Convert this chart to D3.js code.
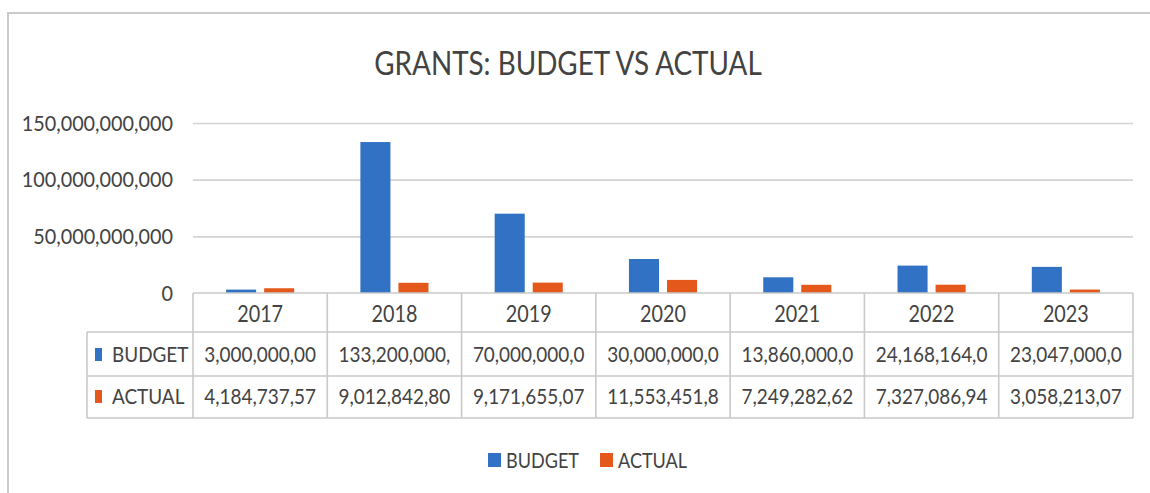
<!DOCTYPE html>
<html>
<head>
<meta charset="utf-8">
<script src="https://cdn.jsdelivr.net/npm/d3@7"></script>
<style>
  html, body { margin: 0; padding: 0; background: #fff; }
  svg { display: block; }
  text { font-family: Lato, "Open Sans", sans-serif; fill: #434343; }
</style>
</head>
<body>
<svg id="chart" width="1150" height="493"></svg>
<script>
// Grants per year, budget against actual
const years = ["2017", "2018", "2019", "2020", "2021", "2022", "2023"];
const budget = [3000000000, 133200000000, 70000000000, 30000000000, 13860000000, 24168164000, 23047000000];
const actual = [4184737570, 9012842800, 9171655070, 11553451800, 7249282620, 7327086940, 3058213070];
const seriesNames = ["BUDGET", "ACTUAL"];
const seriesValues = [budget, actual];
const seriesColors = ["#3272c4", "#e5581c"];
const yTicks = [0, 50000000000, 100000000000, 150000000000];
const titleText = "GRANTS: BUDGET VS ACTUAL";

const svg = d3.select("#chart");
const W = 1150, H = 493;

const plot = { left: 193, right: 1133, top: 123, bottom: 293 };
const table = { labelLeft: 87, headerBottom: 332, rowHeights: [44, 42] };
const gridColor = "#d3d3d3";
const lineColor = "#c9c9c9";
const NARROW = 0.86; // horizontal squeeze to get a narrow, Calibri-like set

// squeeze a text element horizontally by the given factor
function narrow(sel, k = NARROW) {
  sel.each(function () {
    const w = this.getComputedTextLength();
    d3.select(this).attr("textLength", w * k).attr("lengthAdjust", "spacingAndGlyphs");
  });
}

// chart frame
svg.append("rect")
  .attr("x", 8).attr("y", 13)
  .attr("width", W + 20).attr("height", H + 20)
  .attr("fill", "none").attr("stroke", "#cacaca").attr("stroke-width", 2);

// title
svg.append("text")
  .attr("x", 568).attr("y", 75)
  .attr("text-anchor", "middle")
  .style("font-size", "32px")
  .text(titleText)
  .call(narrow, 0.87);

const x = d3.scaleBand().domain(years).range([plot.left, plot.right]).padding(0);
const y = d3.scaleLinear().domain([0, 150000000000]).range([plot.bottom, plot.top]);
const xs = d3.scaleBand().domain(seriesNames)
  .range([0, x.bandwidth()]).paddingInner(0.21).paddingOuter(0.87);

// value axis with gridlines
const yAxis = d3.axisLeft(y)
  .tickValues(yTicks)
  .tickFormat(d3.format(","))
  .tickSizeInner(-(plot.right - plot.left))
  .tickSizeOuter(0)
  .tickPadding(20);

const gy = svg.append("g")
  .attr("transform", `translate(${plot.left},0)`)
  .call(yAxis);
gy.select(".domain").remove();
gy.selectAll(".tick line")
  .attr("stroke", gridColor).attr("stroke-width", 1.6)
  .filter(d => d === 0).remove();
gy.selectAll(".tick text")
  .attr("fill", "#434343")
  .style("font-size", "22px")
  .call(narrow, 0.9);

// bars
const rows = years.map((yr, i) => ({ year: yr, values: seriesNames.map((s, j) => ({ s, j, v: seriesValues[j][i] })) }));
svg.append("g").selectAll("g")
  .data(rows).join("g")
  .attr("transform", d => `translate(${x(d.year)},0)`)
  .selectAll("rect")
  .data(d => d.values).join("rect")
  .attr("x", d => xs(d.s))
  .attr("width", xs.bandwidth())
  .attr("y", d => y(d.v))
  .attr("height", d => y(0) - y(d.v))
  .attr("fill", d => seriesColors[d.j]);

// data table
const rowTops = [table.headerBottom, table.headerBottom + table.rowHeights[0]];
const tableBottom = rowTops[1] + table.rowHeights[1];
const tg = svg.append("g").attr("stroke", lineColor).attr("stroke-width", 1.6);

// horizontal rules
tg.append("line").attr("x1", plot.left).attr("x2", plot.right).attr("y1", plot.bottom).attr("y2", plot.bottom);
[table.headerBottom, rowTops[1], tableBottom].forEach(yy => {
  tg.append("line").attr("x1", table.labelLeft).attr("x2", plot.right).attr("y1", yy).attr("y2", yy);
});
// vertical rules
tg.append("line").attr("x1", table.labelLeft).attr("x2", table.labelLeft).attr("y1", table.headerBottom).attr("y2", tableBottom);
years.forEach(yr => {
  tg.append("line").attr("x1", x(yr)).attr("x2", x(yr)).attr("y1", plot.bottom).attr("y2", tableBottom);
});
tg.append("line").attr("x1", plot.right).attr("x2", plot.right).attr("y1", plot.bottom).attr("y2", tableBottom);

// year header
svg.append("g").selectAll("text")
  .data(years).join("text")
  .attr("x", d => x(d) + x.bandwidth() / 2)
  .attr("y", 322)
  .attr("text-anchor", "middle")
  .style("font-size", "23px")
  .text(d => d)
  .call(narrow);

// row labels with legend keys
const baselines = [362, 404];
seriesNames.forEach((s, j) => {
  svg.append("rect")
    .attr("x", 95).attr("y", baselines[j] - 14)
    .attr("width", 7).attr("height", 13)
    .attr("fill", seriesColors[j]);
  svg.append("text")
    .attr("x", 112).attr("y", baselines[j])
    .style("font-size", "22px")
    .text(s)
    .call(narrow);
});

// cell values, clipped to the cell width like a spreadsheet
const fmt = d3.format(",");
const maxCellText = x.bandwidth() - 12;
seriesNames.forEach((s, j) => {
  svg.append("g").selectAll("text")
    .data(years.map((yr, i) => ({ yr, v: seriesValues[j][i] })))
    .join("text")
    .attr("x", d => x(d.yr) + x.bandwidth() / 2)
    .attr("y", baselines[j])
    .attr("text-anchor", "middle")
    .style("font-size", "22px")
    .text(d => fmt(d.v))
    .each(function () {
      const t = d3.select(this);
      let str = t.text();
      while (str.length > 1 && this.getComputedTextLength() * NARROW > maxCellText) {
        str = str.slice(0, -1);
        t.text(str);
      }
    })
    .call(narrow);
});

// legend
const legend = svg.append("g");
const legendItems = [{ x: 488, tx: 506 }, { x: 600, tx: 618 }];
seriesNames.forEach((s, j) => {
  legend.append("rect")
    .attr("x", legendItems[j].x).attr("y", 453)
    .attr("width", 13).attr("height", 14)
    .attr("fill", seriesColors[j]);
  legend.append("text")
    .attr("x", legendItems[j].tx).attr("y", 468)
    .style("font-size", "21px")
    .text(s)
    .call(narrow);
});
</script>
</body>
</html>
